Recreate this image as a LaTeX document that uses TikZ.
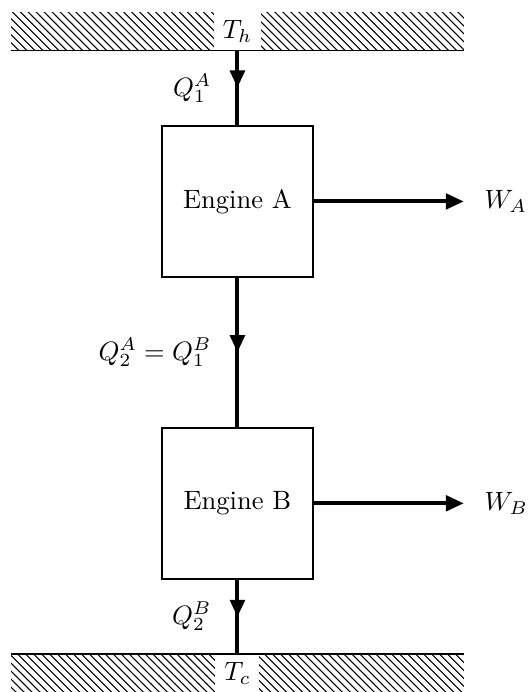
\documentclass[tikz,border=0pt]{standalone}
\usetikzlibrary{patterns,arrows.meta,decorations.markings}
\begin{document}
\begin{tikzpicture}[
  engine/.style={draw,thick,minimum size=2cm,inner sep=0pt,fill=white},
  flow/.style={line width=1.5pt},
  tip/.style={-{Triangle[length=6.8pt,width=5.8pt]}},
  midarrow/.style={postaction={decorate},decoration={markings,mark=at position 0.5 with {\arrow{Triangle[length=6.5pt,width=5.5pt]}}}},
  reservoir/.style={pattern=north west lines},
  rlabel/.style={fill=white},
  qlabel/.style={anchor=east}
]
\useasboundingbox (-3.146,-6.5) rectangle (3.874,2.669);
% reservoirs
\fill[reservoir] (-3,2) rectangle (3,2.5);
\fill[reservoir] (-3,-6) rectangle (3,-6.5);
\node[rlabel] (Th) at (0,2.25) {$T_h$};
\node[rlabel] (Tc) at (0,-6.25) {$T_c$};
\coordinate (hotL) at (-3,2);
\coordinate (hotR) at (3,2);
\coordinate (coldL) at (-3,-6);
\coordinate (coldR) at (3,-6);
\coordinate (hot) at (0,2);
\coordinate (cold) at (0,-6);
\draw[semithick] (hotL) -- (hotR);
\draw[semithick] (coldL) -- (coldR);
% engines
\node[engine] (A) at (0,0) {Engine A};
\node[engine] (B) at (0,-4) {Engine B};
% heat flows
\draw[flow,midarrow] (hot) -- (A.north);
\draw[flow,midarrow] (A.south) -- (B.north);
\draw[flow,midarrow] (B.south) -- (cold);
\node[qlabel] (q1) at (-0.22,1.5) {$Q_1^A$};
\node[qlabel] (q2) at (-0.22,-2) {$Q_2^A = Q_1^B$};
\node[qlabel] (q3) at (-0.22,-5.5) {$Q_2^B$};
% work
\coordinate (wa) at (3,0);
\coordinate (wb) at (3,-4);
\draw[flow,tip] (A.east) -- (wa);
\draw[flow,tip] (B.east) -- (wb);
\node[anchor=west] (WA) at (3.15,0) {$W_A$};
\node[anchor=west] (WB) at (3.15,-4) {$W_B$};
\end{tikzpicture}
\end{document}
